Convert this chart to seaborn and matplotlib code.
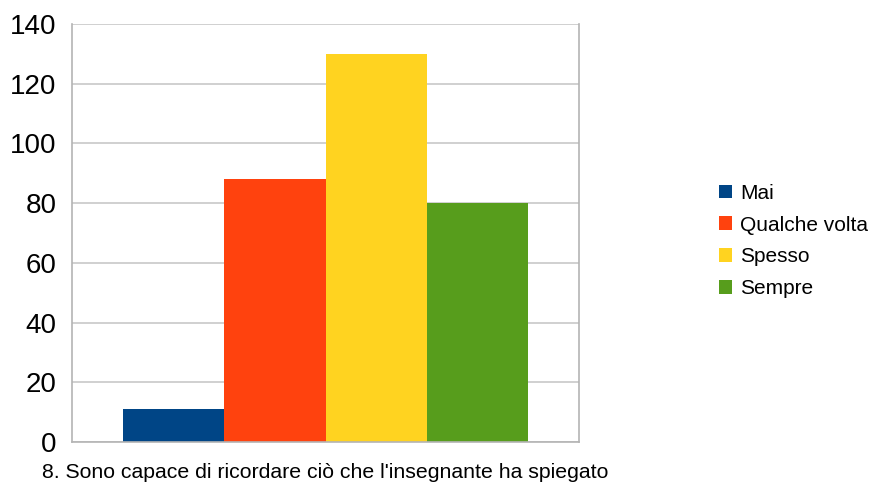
import pandas as pd
import matplotlib.pyplot as plt
import seaborn as sb

# chart data
question = "8. Sono capace di ricordare ciò che l'insegnante ha spiegato"
answers = ['Mai', 'Qualche volta', 'Spesso', 'Sempre']
counts = [11, 88, 130, 80]
colors = ['#004586', '#ff420e', '#ffd320', '#579d1c']
y_ticks = [0, 20, 40, 60, 80, 100, 120, 140]

df = pd.DataFrame({'question': [question] * len(answers),
                   'answer': answers,
                   'count': counts})

sb.set_style('white')
plt.rcParams['font.family'] = ['Liberation Sans', 'DejaVu Sans']
plt.rcParams['text.color'] = 'black'

fig = plt.figure(figsize=(8.73, 4.84), dpi=100)
ax = fig.add_axes([72 / 873, 42 / 484, 507 / 873, 418 / 484])

sb.barplot(data=df, x='question', y='count', hue='answer', hue_order=answers,
           palette=colors, width=0.8, saturation=1, linewidth=0, ax=ax, legend=True)

ax.set_xlim(-0.5, 0.5)
ax.set_ylim(0, 140)
ax.set_yticks(y_ticks)
ax.grid(axis='y', color='#c8c8c8', linewidth=1.2)
ax.set_axisbelow(True)

for side in ['left', 'right', 'bottom']:
    ax.spines[side].set_visible(True)
    ax.spines[side].set_color('#b4b4b4')
    ax.spines[side].set_linewidth(1.2)
ax.spines['top'].set_visible(False)

ax.tick_params(axis='y', length=7, width=1.2, color='#b4b4b4', labelsize=20,
               pad=4, labelcolor='black')
ax.tick_params(axis='x', which='major', length=0, labelsize=15.3, pad=15,
               labelcolor='black')
ax.set_xticks([-0.5, 0.5], minor=True)
ax.tick_params(axis='x', which='minor', length=7, width=1.2, color='#b4b4b4')
ax.set_xlabel('')
ax.set_ylabel('')

leg = ax.legend(loc='center left', bbox_to_anchor=(719 / 873, 243 / 484),
                bbox_transform=fig.transFigure, frameon=False, fontsize=15,
                handlelength=0.62, handleheight=0.62, handletextpad=0.4,
                labelspacing=0.62, borderaxespad=0, borderpad=0)
for t in leg.get_texts():
    t.set_color('black')

fig.savefig('out.png', dpi=100)
